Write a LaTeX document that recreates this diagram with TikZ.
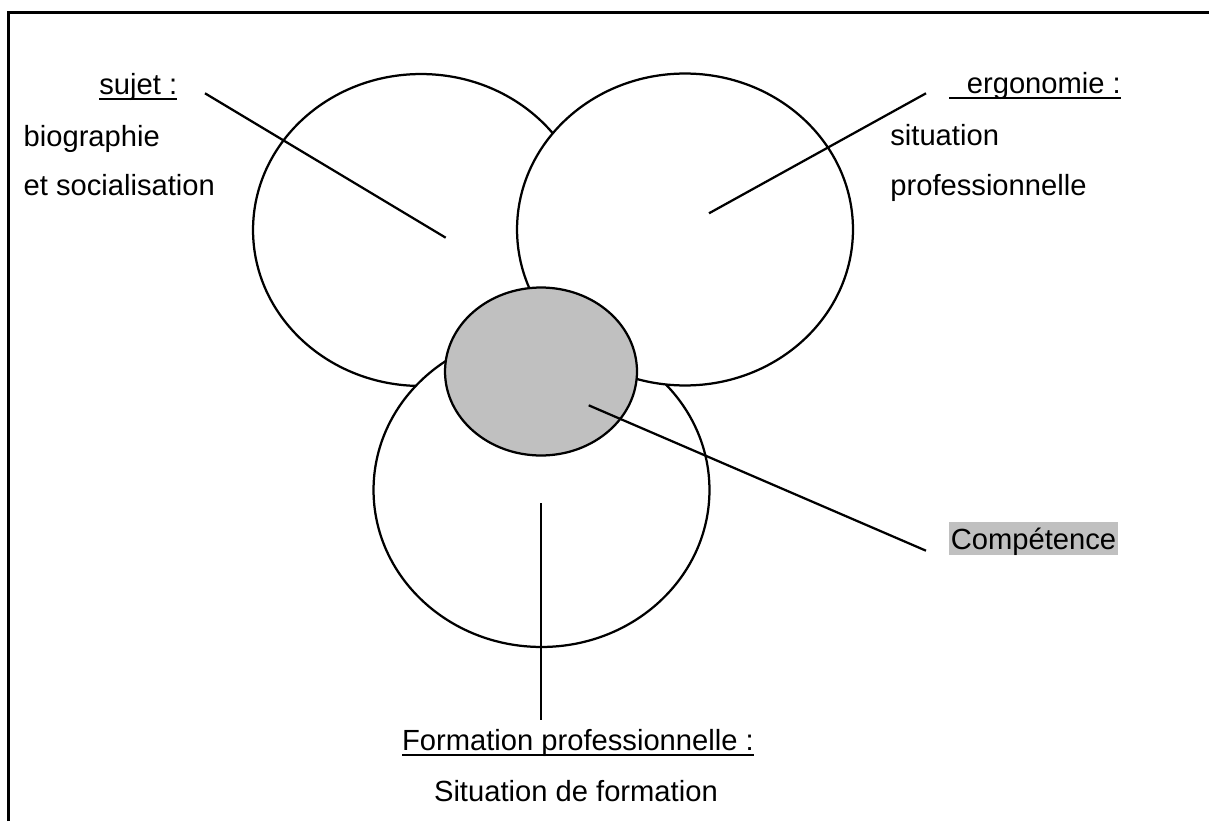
\documentclass[tikz,border=0pt]{standalone}
\usepackage{fontspec}
\setmainfont{Liberation Sans}
\usetikzlibrary{shapes.geometric}
\definecolor{compgray}{RGB}{192,192,192}
\newcommand{\ulbox}[1]{\setbox0=\hbox{#1}\rlap{\rule[-0.21em]{\wd0}{0.09em}}\box0}

\begin{document}
\begin{tikzpicture}[
  x=0.02cm, y=-0.02cm,
  font=\fontsize{16.6}{20}\selectfont,
  lbl/.style={anchor=base west, inner sep=0pt},
  ov/.style={draw, ellipse, line width=0.045cm, fill=white, inner sep=0pt,
             minimum width=6.72cm, minimum height=6.24cm},
  ln/.style={line width=0.045cm}
]
\useasboundingbox (0,0) rectangle (1209,821);
% frame
\draw[line width=0.06cm] (8.7,821) -- (8.7,12.5) -- (1209,12.5);

% circles
\node[ov] (sujet) at (421,230) {};
\node[ov, minimum height=6.28cm] (form) at (541.5,490) {};
\node[ov] (ergo) at (685,229.5) {};
\node[ov, fill=compgray, minimum width=3.84cm, minimum height=3.36cm] (comp) at (541,371.5) {};

% labels
\node[lbl] (tsujet) at (99,94) {\ulbox{sujet :}};
\node[lbl] (tbio) at (23.3,146.7) {biographie};
\node[lbl] (tsoc) at (23.3,195) {et socialisation};
\node[lbl] (tergo) at (949,93.3) {\ulbox{\hspace{0.6em}ergonomie :}};
\node[lbl] (tsit) at (890,145) {situation};
\node[lbl] (tpro) at (890,195) {professionnelle};
\node[lbl, fill=compgray, inner xsep=0.03cm, text height=0.54cm, text depth=0.12cm] (tcomp) at (949,549) {Compétence};
\node[lbl] (tform) at (401.7,750) {\ulbox{Formation professionnelle :}};
\node[lbl] (tsitf) at (433.7,801) {Situation de formation};

% connectors
\coordinate (sujetin) at (445.7,237.7);
\coordinate (ergoin) at (709,213.3);
\coordinate (compin) at (588.7,405.3);
\coordinate (formin) at (541.3,503.3);
\coordinate (sujetout) at (205,93.3);
\coordinate (ergoout) at (926,93.3);
\coordinate (compout) at (926,550.7);
\coordinate (formout) at (541.3,720);
\draw[ln] (sujetout) -- (sujetin);
\draw[ln] (ergoout) -- (ergoin);
\draw[ln] (compin) -- (compout);
\draw[ln] (formin) -- (formout);
\end{tikzpicture}
\end{document}
